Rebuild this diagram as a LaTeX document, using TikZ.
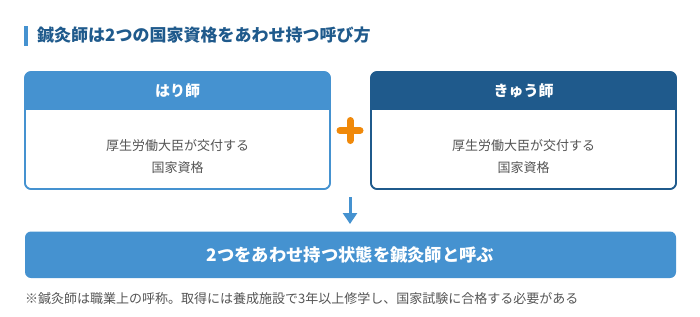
\documentclass[tikz,border=0pt]{standalone}
\usepackage{fontspec}
\setmainfont{Noto Sans CJK JP}
\usetikzlibrary{arrows.meta}
\definecolor{lblue}{HTML}{4592D0}
\definecolor{dblue}{HTML}{1F5A8C}
\definecolor{tgray}{HTML}{555555}
\definecolor{orng}{HTML}{F0890A}
\tikzset{
  boxframe/.style={rounded corners=6pt, line width=1.6pt, fill=white},
  headtext/.style={text=white, font=\fontsize{15}{18}\selectfont\bfseries, anchor=center},
  bodytext/.style={text=tgray, font=\fontsize{13}{22}\selectfont, align=center, anchor=center},
}
\begin{document}
\begin{tikzpicture}[x=1pt,y=-1pt]
\useasboundingbox (0,0) rectangle (700,316);
% title
\fill[lblue] (24,26) rectangle (27.5,45.5);
\node[anchor=west, text=dblue, font=\fontsize{17}{20}\selectfont\bfseries, inner sep=0pt] (title) at (37,35.5) {鍼灸師は2つの国家資格をあわせ持つ呼び方};
% left box
\draw[boxframe, draw=lblue] (25,72) rectangle (330,189);
\begin{scope}
\clip[rounded corners=6pt] (25,72) rectangle (330,189);
\fill[lblue] (25,72) rectangle (330,110);
\end{scope}
\draw[lblue, line width=1.6pt, rounded corners=6pt] (25,72) rectangle (330,189);
\node[headtext] (lh) at (177.5,91) {はり師};
\node[bodytext] (lb) at (177.5,156.5) {厚生労働大臣が交付する\\国家資格};
% right box
\draw[boxframe, draw=dblue] (371,72) rectangle (676,189);
\begin{scope}
\clip[rounded corners=6pt] (371,72) rectangle (676,189);
\fill[dblue] (371,72) rectangle (676,110);
\end{scope}
\draw[dblue, line width=1.6pt, rounded corners=6pt] (371,72) rectangle (676,189);
\node[headtext] (rh) at (523.5,91) {きゅう師};
\node[bodytext] (rb) at (523.5,156.5) {厚生労働大臣が交付する\\国家資格};
% plus
\node[inner sep=0pt, minimum size=0pt] (plus) at (350,130.5) {};
\draw[orng, line width=7pt, line cap=round] ([xshift=-10pt]plus.center) -- ([xshift=10pt]plus.center);
\draw[orng, line width=7pt, line cap=round] ([yshift=-10pt]plus.center) -- ([yshift=10pt]plus.center);
% arrow
\coordinate (astart) at (350,197);
\coordinate (aend) at (350,224);
\draw[lblue, line width=3pt, -{Triangle[length=11pt,width=14pt]}] (astart) -- (aend);
% bottom bar
\fill[lblue, rounded corners=6pt] (25,231.5) rectangle (676,278);
\node[headtext, font=\fontsize{17.3}{20}\selectfont\bfseries] (bar) at (350.5,255) {2つをあわせ持つ状態を鍼灸師と呼ぶ};
% footer
\node[anchor=west, inner sep=0pt, text=tgray, font=\fontsize{13}{15}\selectfont] (foot) at (25,298.5) {※鍼灸師は職業上の呼称。取得には養成施設で3年以上修学し、国家試験に合格する必要がある};
\end{tikzpicture}
\end{document}
